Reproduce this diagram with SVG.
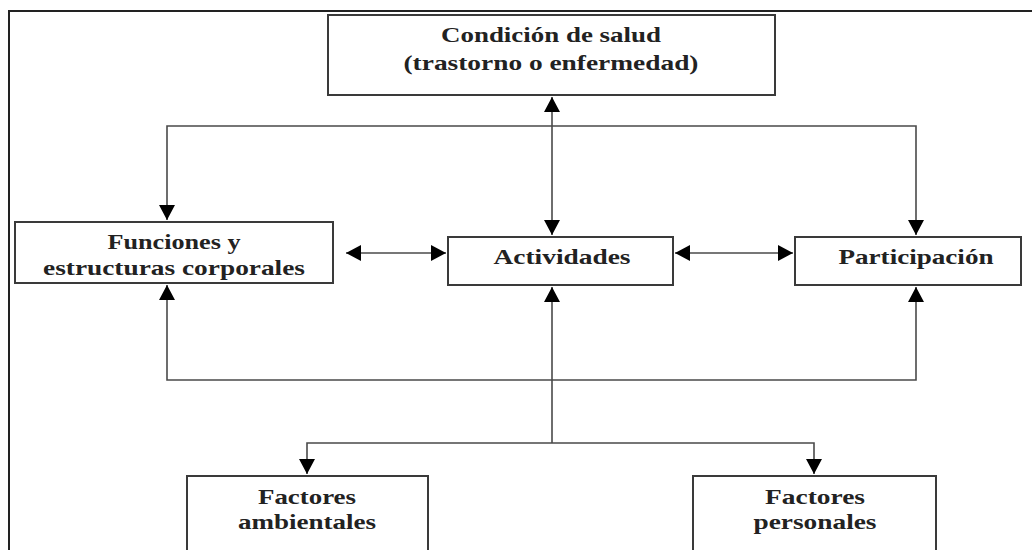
<svg xmlns="http://www.w3.org/2000/svg" width="1032" height="550" viewBox="0 0 1032 550">
<style>
.box{fill:#fff;stroke:#3a3a3a;stroke-width:2}
.t{font-family:"Liberation Serif","Times New Roman",serif;font-weight:bold;font-size:22px;fill:#222;text-anchor:middle}
.c{fill:none;stroke:#4a4a4a;stroke-width:1.6}
.frame{fill:none;stroke:#222;stroke-width:2}
</style>
<defs>
<marker id="ah" markerUnits="userSpaceOnUse" markerWidth="16" markerHeight="18" viewBox="0 0 16 18" refX="15" refY="9" orient="auto-start-reverse">
<path d="M0,1 L15,9 L0,17 z" fill="#000"/>
</marker>
</defs>
<rect width="1032" height="550" fill="#fff"/>
<path class="frame" d="M9,550 V11 H1032"/>
<g id="connectors">
<path class="c" d="M167,220 V126 H916 V235" marker-start="url(#ah)" marker-end="url(#ah)"/>
<path class="c" d="M552,97 V235" marker-start="url(#ah)" marker-end="url(#ah)"/>
<path class="c" d="M346,253 H446" marker-start="url(#ah)" marker-end="url(#ah)"/>
<path class="c" d="M675,253 H793" marker-start="url(#ah)" marker-end="url(#ah)"/>
<path class="c" d="M167,285 V380 H916 V287" marker-start="url(#ah)" marker-end="url(#ah)"/>
<path class="c" d="M552,443 V287" marker-end="url(#ah)"/>
<path class="c" d="M307,474 V443 H814 V474" marker-start="url(#ah)" marker-end="url(#ah)"/>
</g>
<g id="condicion">
<rect class="box" x="328" y="15" width="447" height="80"/>
<text class="t" x="551" y="42" textLength="220" lengthAdjust="spacingAndGlyphs">Condición de salud</text>
<text class="t" x="551" y="70" textLength="295" lengthAdjust="spacingAndGlyphs">(trastorno o enfermedad)</text>
</g>
<g id="funciones">
<rect class="box" x="15" y="222" width="318" height="61"/>
<text class="t" x="174" y="249" textLength="133" lengthAdjust="spacingAndGlyphs">Funciones y</text>
<text class="t" x="174" y="275" textLength="262" lengthAdjust="spacingAndGlyphs">estructuras corporales</text>
</g>
<g id="actividades">
<rect class="box" x="448" y="237" width="225" height="48"/>
<text class="t" x="562" y="264" textLength="137" lengthAdjust="spacingAndGlyphs">Actividades</text>
</g>
<g id="participacion">
<rect class="box" x="795" y="237" width="226" height="48"/>
<text class="t" x="916" y="264" textLength="155" lengthAdjust="spacingAndGlyphs">Participación</text>
</g>
<g id="ambientales">
<rect class="box" x="187" y="476" width="241" height="90"/>
<text class="t" x="307" y="504" textLength="98" lengthAdjust="spacingAndGlyphs">Factores</text>
<text class="t" x="307" y="529" textLength="138" lengthAdjust="spacingAndGlyphs">ambientales</text>
</g>
<g id="personales">
<rect class="box" x="693" y="476" width="243" height="90"/>
<text class="t" x="815" y="504" textLength="100" lengthAdjust="spacingAndGlyphs">Factores</text>
<text class="t" x="815" y="529" textLength="123" lengthAdjust="spacingAndGlyphs">personales</text>
</g>
</svg>
